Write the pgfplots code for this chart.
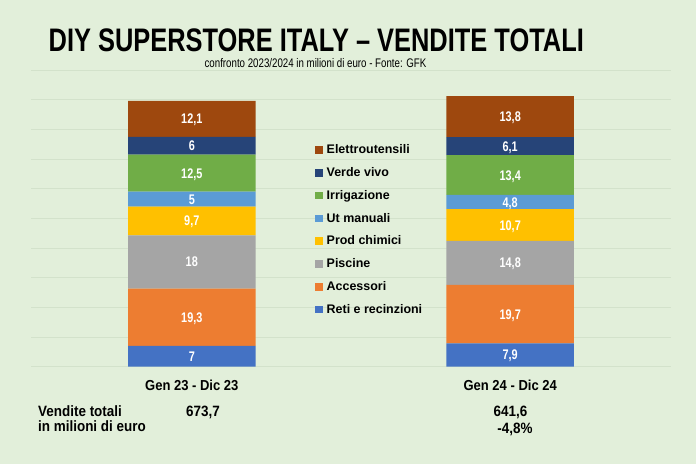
\documentclass[border=0pt]{standalone}
\usepackage{fontspec}
\setmainfont{Liberation Sans}
\newfontfamily\narrow[FakeStretch=0.78]{Liberation Sans}
\newfontfamily\semi[FakeStretch=0.9]{Liberation Sans}
\newfontfamily\titlef[FakeStretch=0.78]{Liberation Sans}
\usepackage{pgfplots}
\pgfplotsset{compat=1.18}

\definecolor{sfondo}{RGB}{226,239,218}
\definecolor{griglia}{RGB}{211,226,203}
\definecolor{elettro}{RGB}{158,72,14}
\definecolor{verde}{RGB}{38,68,120}
\definecolor{irrig}{RGB}{112,173,71}
\definecolor{utman}{RGB}{91,155,213}
\definecolor{chimici}{RGB}{255,192,0}
\definecolor{piscine}{RGB}{165,165,165}
\definecolor{accessori}{RGB}{237,125,49}
\definecolor{reti}{RGB}{68,114,196}

% label centred on its segment: lowered by half the cap height
\newcommand\etichetta{%
  \raisebox{-5bp}[0pt][0pt]{\pgfmathprintnumber{\pgfplotspointmeta}}}

\begin{document}
\begin{tikzpicture}[x=1bp,y=1bp]
\fill[sfondo] (0,0) rectangle (696,464);

\node[anchor=base west,inner sep=0pt] at (48.5,412.3)
  {\titlef\bfseries\fontsize{32.7}{33}\selectfont DIY SUPERSTORE ITALY – VENDITE TOTALI};
\node[anchor=base,inner sep=0pt] at (315.5,396.8)
  {\narrow\fontsize{12.5}{13}\selectfont confronto 2023/2024 in milioni di euro - Fonte: GFK};

\begin{axis}[
  at={(31bp,97.3bp)}, anchor=south west,
  scale only axis, width=640bp, height=296.6bp,
  xmin=-0.505, xmax=1.505, ymin=0, ymax=100,
  clip=false,
  ybar stacked, bar width=127.5bp,
  axis line style={draw=none},
  major tick length=0pt,
  ytick={0,10,...,100}, yticklabels={},
  ymajorgrids, grid style={griglia, line width=0.9bp},
  xtick={0,1}, xticklabels={Gen 23 - Dic 23, Gen 24 - Dic 24},
  x tick label style={font=\semi\bfseries\fontsize{14.5}{14.5}\selectfont, anchor=base, yshift=-24.3bp},
  /pgf/number format/.cd, use comma, fixed, precision=1, assume math mode=true, /pgfplots/.cd,
  nodes near coords={\etichetta},
  every node near coord/.append style={anchor=base, inner sep=0pt,
    text=white, font=\narrow\bfseries\fontsize{14}{14}\selectfont},
  reverse legend,
  legend cell align=left,
  legend image code/.code={\fill[#1] (0bp,-3.8bp) rectangle (7.5bp,3.8bp);},
  legend style={at={(0.44375,0.756)}, anchor=north west, draw=none, fill=none,
    inner sep=0pt, row sep=8.3bp,
    font=\bfseries\fontsize{12.5}{12.5}\selectfont,
    /tikz/every odd column/.append style={column sep=2bp}},
]
\addplot[fill=reti, draw=none] coordinates {(0,7) (1,7.9)};
\addplot[fill=accessori, draw=none] coordinates {(0,19.3) (1,19.7)};
\addplot[fill=piscine, draw=none] coordinates {(0,18) (1,14.8)};
\addplot[fill=chimici, draw=none] coordinates {(0,9.7) (1,10.7)};
\addplot[fill=utman, draw=none] coordinates {(0,5) (1,4.8)};
\addplot[fill=irrig, draw=none] coordinates {(0,12.5) (1,13.4)};
\addplot[fill=verde, draw=none] coordinates {(0,6) (1,6.1)};
\addplot[fill=elettro, draw=none] coordinates {(0,12.1) (1,13.8)};
\legend{Reti e recinzioni, Accessori, Piscine, Prod chimici, Ut manuali, Irrigazione, Verde vivo, Elettroutensili}
\end{axis}

\begin{scope}[every node/.style={anchor=base, inner sep=0pt, font=\semi\bfseries\fontsize{15}{15}\selectfont}]
\node[anchor=base west] at (38,47.5) {Vendite totali};
\node[anchor=base west] at (38,32) {in milioni di euro};
\node at (203,47.5) {673,7};
\node at (510.5,47.5) {641,6};
\node at (515,30) {-4,8\%};
\end{scope}
\end{tikzpicture}
\end{document}
